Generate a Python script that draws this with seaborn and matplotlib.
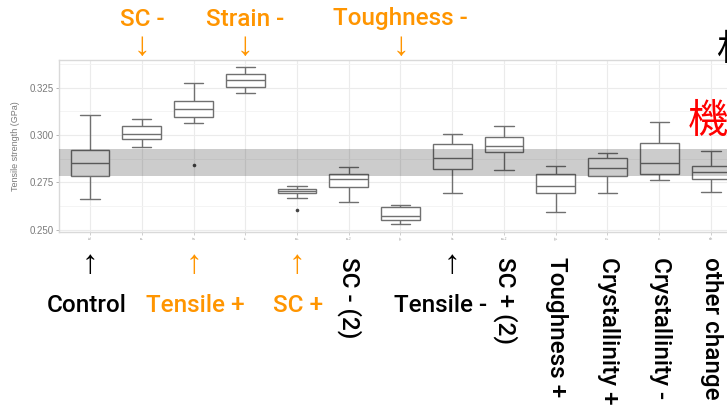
import numpy as np
import pandas as pd
import matplotlib
matplotlib.use("Agg")
import matplotlib.pyplot as plt
import seaborn as sns

# Groups (left to right) and their five-number summaries of tensile strength (GPa)
groups = ["Control", "SC -", "Tensile +", "Strain -", "SC +", "SC - (2)",
          "Toughness -", "Tensile -", "SC + (2)", "Toughness +",
          "Crystallinity +", "Crystallinity -", "other change"]
tick_codes = ["ctrl", "sc-", "ts+", "st-", "sc+", "sc-2", "tg-", "ts-",
              "sc+2", "tg+", "cr+", "cr-", "oth"]
whisker_low = [0.2662, 0.2935, 0.3065, 0.3220, 0.2669, 0.2646, 0.2528,
               0.2692, 0.2815, 0.2591, 0.2695, 0.2762, 0.2700]
q1 = [0.2783, 0.2977, 0.3097, 0.3255, 0.2692, 0.2725, 0.2551,
      0.2820, 0.2910, 0.2692, 0.2783, 0.2794, 0.2766]
median = [0.2850, 0.3004, 0.3139, 0.3289, 0.2704, 0.2769, 0.2573,
          0.2877, 0.2942, 0.2732, 0.2824, 0.2850, 0.2804]
q3 = [0.2921, 0.3048, 0.3180, 0.3322, 0.2716, 0.2794, 0.2618,
      0.2954, 0.2991, 0.2794, 0.2877, 0.2956, 0.2838]
whisker_high = [0.3106, 0.3085, 0.3276, 0.3358, 0.2732, 0.2829, 0.2632,
                0.3005, 0.3048, 0.2838, 0.2906, 0.3069, 0.2917]

# Outlying observations
outlier_groups = ["Tensile +", "SC +"]
outlier_values = [0.2841, 0.2605]

# Control reference band (interquartile range of the control group)
band_low, band_high = 0.2783, 0.2924

y_ticks = [0.250, 0.275, 0.300, 0.325]
y_limits = (0.2489, 0.3397)

# Annotation labels
top_labels = ["SC -", "Strain -", "Toughness -"]
bottom_flat = ["Control", "Tensile +", "SC +", "Tensile -"]
bottom_flat_colors = ["black", "orange", "orange", "black"]
bottom_flat_centers = [87, 195, 298, 440]
bottom_rotated = ["SC - (2)", "SC + (2)", "Toughness +", "Crystallinity +",
                  "Crystallinity -", "other change"]

W, H = 727, 411
ORANGE = "#FF9500"

df = pd.DataFrame({
    "group": np.repeat(groups, 5),
    "strength": np.column_stack([whisker_low, q1, median, q3, whisker_high]).ravel(),
})
df_out = pd.DataFrame({"group": outlier_groups, "strength": outlier_values})

sns.set_theme(style="whitegrid")
plt.rcParams["font.family"] = ["Liberation Sans", "DejaVu Sans"]

fig = plt.figure(figsize=(W / 100, H / 100), dpi=100)
fig.patch.set_facecolor("white")

unit = 51.75
left_px = 90 - 0.6 * unit
n = len(groups)
ax = fig.add_axes([left_px / W, (H - 231.7) / H, (n + 0.2) * unit / W, 171.7 / H])

sns.boxplot(data=df, x="group", y="strength", order=groups, whis=np.inf,
            color="white", linecolor="#707070", linewidth=1.0, width=0.75,
            fliersize=0, ax=ax, zorder=3)
sns.stripplot(data=df_out, x="group", y="strength", order=groups, jitter=False,
              color="#444444", size=2.6, ax=ax, zorder=4)

ax.axhspan(band_low, band_high, color="black", alpha=0.2, lw=0, zorder=5)

ax.set_xlim(-0.6, n - 1 + 0.6)
ax.set_ylim(*y_limits)
ax.set_yticks(y_ticks)
ax.set_yticklabels([f"{v:.3f}" for v in y_ticks])
ax.set_yticks([0.2625, 0.2875, 0.3125, 0.3375], minor=True)
ax.set_xticks(range(n))
ax.set_xticklabels(tick_codes)
ax.set_facecolor("white")
ax.grid(which="major", color="#ebebeb", lw=0.8)
ax.grid(which="minor", axis="y", color="#f3f3f3", lw=0.6)
for s in ax.spines.values():
    s.set_visible(True)
    s.set_color("#d9d9d9")
    s.set_linewidth(1.0)
ax.tick_params(axis="y", which="major", labelsize=7, labelcolor="#7a7a7a",
               color="#aaaaaa", length=2.5, width=0.6, pad=1.5, left=True)
ax.tick_params(axis="y", which="minor", length=0)
ax.tick_params(axis="x", labelsize=2.2, labelcolor="#999999", color="#bbbbbb",
               length=2, width=0.5, pad=2, bottom=True)
ax.set_xlabel("")
ax.set_ylabel("Tensile strength (GPa)", fontsize=6.5, color="#7a7a7a", labelpad=2)
ax.yaxis.set_label_coords(-(59 - 20) / ((n + 0.2) * unit), 0.5)


def fx(px):
    return px / W


def fy(py):
    return 1 - py / H


def xpos(name):
    return 90 + groups.index(name) * unit


FS = 17.5
ARROW_FS = 24
LABEL_FONT = dict(family=["Roboto", "Liberation Sans", "DejaVu Sans"], fontweight=500)
ARROW_FONT = dict(family=["Liberation Sans", "DejaVu Sans"])
for label in top_labels:
    x = xpos(label)
    fig.text(fx(x), fy(19), label, color=ORANGE, fontsize=FS, ha="center",
             va="center", **LABEL_FONT)
    fig.text(fx(x), fy(46), "↓", color=ORANGE, fontsize=ARROW_FS, ha="center",
             va="center", **ARROW_FONT)

for label, col, cx in zip(bottom_flat, bottom_flat_colors, bottom_flat_centers):
    c = ORANGE if col == "orange" else "black"
    fig.text(fx(xpos(label)), fy(265), "↑", color=c, fontsize=ARROW_FS,
             ha="center", va="center", **ARROW_FONT)
    fig.text(fx(cx), fy(306), label, color=c, fontsize=FS, ha="center",
             va="center", **LABEL_FONT)

for label in bottom_rotated:
    x = xpos(label) + 1
    fig.text(fx(x), fy(257), label, color="black", fontsize=FS, rotation=270,
             ha="center", va="top", **LABEL_FONT)

fig.text(fx(716), fy(50), "材料", color="black", fontsize=26, ha="left", va="center",
         family=["Noto Sans CJK JP", "DejaVu Sans"])
fig.text(fx(688), fy(121), "機械学習", color="#ff0000", fontsize=29, ha="left", va="center",
         family=["Noto Sans CJK JP", "DejaVu Sans"])

fig.savefig("out.png", dpi=100, facecolor="white")
